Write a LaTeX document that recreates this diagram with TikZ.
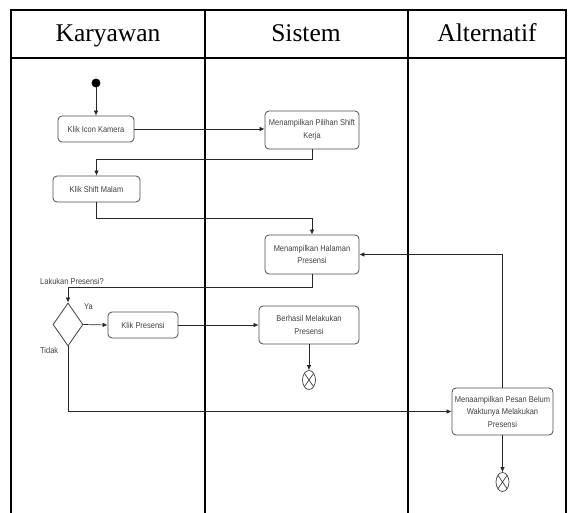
\documentclass[tikz,border=0pt]{standalone}
\usepackage{fontspec}
\setmainfont{Liberation Serif}
\newfontfamily\kecilfont[FakeStretch=0.88]{Liberation Sans}
\usetikzlibrary{arrows.meta, shapes.geometric, calc}

\tikzset{
    aksi/.style={draw=black!70, line width=0.8pt, rounded corners=4pt, align=center, text=black!75, font=\kecilfont\fontsize{8.5}{12.5}\selectfont, inner sep=1pt},
    panah/.style={draw=black!85, line width=0.7pt, -{Latex[length=5pt,width=4.5pt]}},
    garis/.style={line width=2pt},
    judul/.style={anchor=base, font=\fontsize{25.5}{28}\selectfont},
    selesai/.style={ellipse, draw=black!75, line width=0.7pt, minimum width=13pt, minimum height=19pt, inner sep=0pt, path picture={
        \draw[black!75, line width=0.7pt] (path picture bounding box.north west) -- (path picture bounding box.south east)
            (path picture bounding box.north east) -- (path picture bounding box.south west);}},
    label kecil/.style={anchor=west, text=black!75, font=\kecilfont\fontsize{8.5}{10}\selectfont, inner sep=0pt}
}

\begin{document}
\begin{tikzpicture}[x=1pt, y=-1pt]
        \useasboundingbox (0,0) rectangle (568,512);

        % tabel swimlane
        \draw[garis] (11,513) -- (11,10) -- (566,10) -- (566,513);
        \draw[garis] (11,58) -- (566,58);
        \draw[garis] (205,10) -- (205,513);
        \draw[garis] (408,10) -- (408,513);
        \node[judul] (kolom1) at (108,41) {Karyawan};
        \node[judul] (kolom2) at (306,41) {Sistem};
        \node[judul] (kolom3) at (487,41) {Alternatif};

        % aktivitas
        \filldraw[black] (96,83) circle (4.2pt);
        \coordinate (start) at (96,87);
        \node[aksi, minimum width=76pt, minimum height=26pt] (kamera) at (96,129) {Klik Icon Kamera};
        \node[aksi, minimum width=94pt, minimum height=38pt] (pilihshift) at (312,130) {Menampilkan Pilihan Shift\\Kerja};
        \node[aksi, minimum width=87pt, minimum height=26pt] (shiftmalam) at (96.5,189) {Klik Shift Malam};
        \node[aksi, minimum width=94pt, minimum height=39pt] (halaman) at (312,254.5) {Menampilkan Halaman\\Presensi};

        \node[diamond, draw=black!75, line width=0.8pt, minimum width=30pt, minimum height=43pt, inner sep=0pt] (keputusan) at (68,324.5) {};
        \node[label kecil] (tanya) at (40,281) {Lakukan Presensi?};
        \node[label kecil] (ya) at (84,307) {Ya};
        \node[label kecil] (tidak) at (40,350) {Tidak};

        \node[aksi, minimum width=70pt, minimum height=26pt] (klikpresensi) at (143,325) {Klik Presensi};
        \node[aksi, minimum width=100pt, minimum height=38pt] (berhasil) at (309,325) {Berhasil Melakukan\\Presensi};
        \node[selesai] (akhir1) at (309,380) {};

        \node[aksi, minimum width=101pt, minimum height=47pt] (pesan) at (502.5,411.5) {Menaampilkan Pesan Belum\\Waktunya Melakukan\\Presensi};
        \node[selesai] (akhir2) at (502.5,482) {};

        % alur
        \draw[panah] (start) -- (kamera);
        \draw[panah] (kamera.east) -- (kamera.east -| pilihshift.west);
        \draw[panah] (pilihshift.south) -- ++(0,10) -| (shiftmalam.north);
        \draw[panah] (shiftmalam.south) -- ++(0,16) -| (halaman.north);
        \draw[panah] (halaman.south) -- ++(0,12.5) -| (keputusan.north);
        \draw[panah] (keputusan.east) -- (klikpresensi.west);
        \draw[panah] (klikpresensi.east) -- (berhasil.west);
        \draw[panah] (berhasil.south) -- (akhir1.north);
        \draw[panah] (keputusan.south) |- (pesan.west);
        \draw[panah] (pesan.north) |- (halaman.east);
        \draw[panah] (pesan.south) -- (akhir2.north);
\end{tikzpicture}
\end{document}
